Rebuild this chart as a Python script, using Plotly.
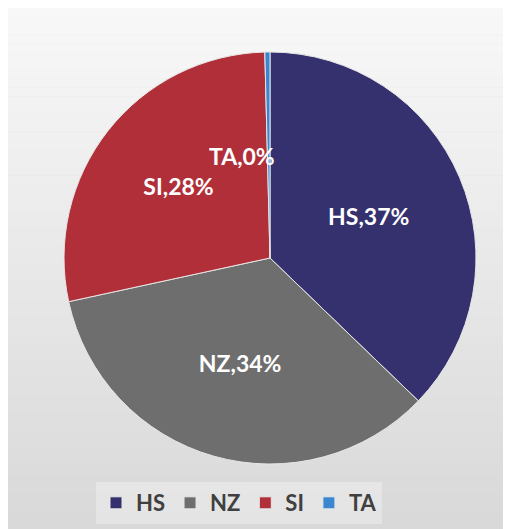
import plotly.graph_objects as go

categories = ["HS", "NZ", "SI", "TA"]
values = [37.2, 34.4, 28.0, 0.4]
colors = ["#35316f", "#6e6e6e", "#b02f39", "#3a86d1"]

W, H = 511, 529
cx, cy, r = 262, 250, 206

fig = go.Figure()
fig.add_trace(go.Pie(
    labels=categories,
    values=values,
    sort=False,
    direction="clockwise",
    rotation=0,
    marker=dict(colors=colors, line=dict(color="#e6e6e6", width=1)),
    texttemplate="%{label},%{percent:.0%}",
    textposition=["inside", "inside", "inside", "none"],
    insidetextorientation="horizontal",
    textfont=dict(family="Lato", size=23, color="white", weight="bold"),
    hoverinfo="label+percent",
    domain=dict(x=[(cx - r) / W, (cx + r) / W], y=[(H - cy - r) / H, (H - cy + r) / H]),
))

# TA label (tiny slice) placed inside like the reference
ta_pct = values[3] / sum(values)
fig.add_annotation(
    x=234 / W, y=(H - 132) / H, xref="paper", yref="paper",
    text=f"{categories[3]},{ta_pct:.0%}", showarrow=False,
    font=dict(family="Lato", size=23, color="white", weight="bold"),
)

# background gradient panel
n = 60
c0, c1 = 248, 216
for i in range(n):
    y0 = H * i / n
    y1 = H * (i + 1) / n
    g = round(c0 + (c1 - c0) * (i + 0.5) / n)
    fig.add_shape(type="rect", xref="paper", yref="paper",
                  x0=0, x1=1, y0=1 - y1 / H - 0.0005, y1=1 - y0 / H,
                  fillcolor=f"rgb({g},{g},{g})", line=dict(width=0), layer="below")

fig.update_layout(
    width=W, height=H,
    margin=dict(l=0, r=0, t=0, b=0),
    paper_bgcolor="#dcdcdc",
    showlegend=True,
    legend=dict(orientation="h", x=88 / W, xanchor="left", y=(H - 474) / H, yanchor="top",
                font=dict(family="Lato", size=22, color="#404040", weight="bold"),
                bgcolor="rgba(255,255,255,0.3)", itemclick=False),
)

fig.write_html("out.html")
